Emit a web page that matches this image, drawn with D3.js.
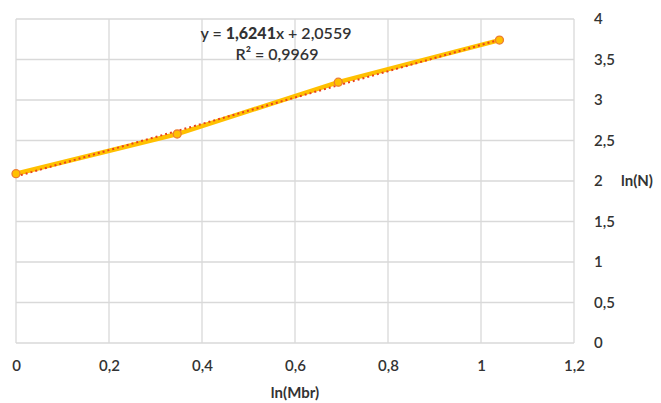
<!DOCTYPE html>
<html>
<head>
<meta charset="utf-8">
<script src="https://cdn.jsdelivr.net/npm/d3@7"></script>
<style>
  body { margin: 0; background: #fff; }
  text { font-family: Lato, "Open Sans", sans-serif; fill: #333; }
</style>
</head>
<body>
<div id="chart"></div>
<script>
// points ln(Mbr) / ln(N)
const xVals = [0, 0.3466, 0.6931, 1.0397];
const yVals = [2.09, 2.58, 3.22, 3.74];
const xTicks = [0, 0.2, 0.4, 0.6, 0.8, 1, 1.2];
const yTicks = [0, 0.5, 1, 1.5, 2, 2.5, 3, 3.5, 4];
const slope = 1.6241, intercept = 2.0559, r2 = 0.9969;

const W = 661, H = 403;
const margin = { top: 19, right: 87, bottom: 60, left: 16 };
const width = W - margin.left - margin.right,
      height = H - margin.top - margin.bottom;

const fmt = v => String(v).replace('.', ',');

const svg = d3.select("#chart").append("svg")
  .attr("width", W).attr("height", H);
const g = svg.append("g")
  .attr("transform", "translate(" + margin.left + "," + margin.top + ")");

const x = d3.scaleLinear().domain([0, 1.2]).range([0, width]);
const y = d3.scaleLinear().domain([0, 4]).range([height, 0]);

// grid
g.selectAll(".gx").data(xTicks).enter().append("line")
  .attr("x1", d => x(d)).attr("x2", d => x(d))
  .attr("y1", 0).attr("y2", height)
  .attr("stroke", "#d9d9d9").attr("stroke-width", 1.3);
g.selectAll(".gy").data(yTicks).enter().append("line")
  .attr("x1", 0).attr("x2", width)
  .attr("y1", d => y(d)).attr("y2", d => y(d))
  .attr("stroke", "#d9d9d9").attr("stroke-width", 1.3);

// axes (labels only)
const xAxis = g.append("g")
  .attr("transform", "translate(0," + (height + 14) + ")")
  .call(d3.axisBottom(x).tickValues(xTicks).tickFormat(fmt).tickSize(0));
xAxis.select(".domain").remove();
xAxis.selectAll("text").style("font-size", "15px").style("font-weight", 600).attr("fill", "#333");

const yAxis = g.append("g")
  .attr("transform", "translate(" + (width + 17) + ",0)")
  .call(d3.axisRight(y).tickValues(yTicks).tickFormat(fmt).tickSize(0));
yAxis.select(".domain").remove();
yAxis.selectAll("text").style("font-size", "15px").style("font-weight", 600).attr("fill", "#333");

// axis titles
svg.append("text")
  .attr("x", margin.left + width / 2).attr("y", 398)
  .attr("text-anchor", "middle")
  .style("font-size", "15px").style("font-weight", "bold")
  .text("ln(Mbr)");
svg.append("text")
  .attr("x", 621).attr("y", margin.top + y(2) + 5)
  .style("font-size", "15px").style("font-weight", "bold")
  .text("ln(N)");

// series line
const pts = xVals.map((v, i) => [v, yVals[i]]);
const line = d3.line().x(d => x(d[0])).y(d => y(d[1]));
g.append("path").datum(pts)
  .attr("d", line)
  .attr("fill", "none")
  .attr("stroke", "#FFC000")
  .attr("stroke-width", 4.5);

// trendline
const tx = [xVals[0], xVals[xVals.length - 1]];
g.append("path").datum(tx.map(v => [v, slope * v + intercept]))
  .attr("d", line)
  .attr("fill", "none")
  .attr("stroke", "#E8421C")
  .attr("stroke-width", 2)
  .attr("stroke-dasharray", "2,3");

// markers
g.selectAll(".pt").data(pts).enter().append("circle")
  .attr("cx", d => x(d[0])).attr("cy", d => y(d[1]))
  .attr("r", 4)
  .attr("fill", "#FFC000")
  .attr("stroke", "#ED7D31")
  .attr("stroke-width", 1.3);

// equation
const eq = svg.append("text")
  .attr("x", 276).attr("y", 39)
  .attr("text-anchor", "middle")
  .style("font-size", "16px").style("font-weight", 600);
eq.append("tspan").text("y = ");
eq.append("tspan").style("font-weight", 900).text(fmt(slope));
eq.append("tspan").text("x + " + fmt(intercept));

svg.append("text")
  .attr("x", 277).attr("y", 60)
  .attr("text-anchor", "middle")
  .style("font-size", "16px").style("font-weight", 600)
  .text("R² = " + fmt(r2));
</script>
</body>
</html>
